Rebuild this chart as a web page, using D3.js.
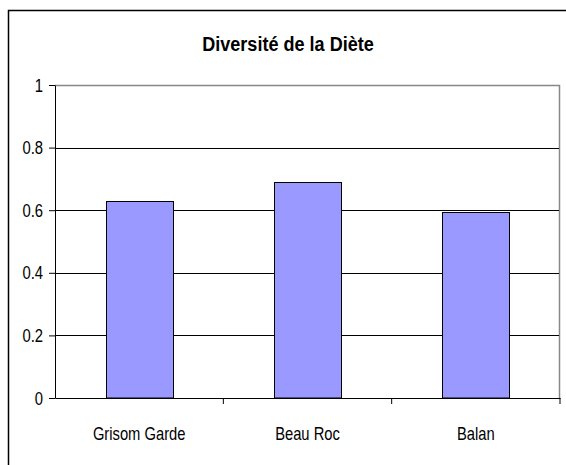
<!DOCTYPE html>
<html>
<head>
<meta charset="utf-8">
<script src="https://cdn.jsdelivr.net/npm/d3@7"></script>
<style>
  body { margin: 0; background: #fff; }
  text { font-family: "Liberation Sans", Arial, sans-serif; }
</style>
</head>
<body>
<svg id="chart" width="566" height="465"></svg>
<script>
const title = 'Diversité de la Diète';
const sites = ['Grisom Garde', 'Beau Roc', 'Balan'];
const diversity = [0.63, 0.69, 0.595];
const yTicks = [0, 0.2, 0.4, 0.6, 0.8, 1];

const svg = d3.select('#chart');
const plot = { left: 55, right: 560, top: 85, bottom: 398 };
// the source picture is squeezed sideways, so text is narrowed
const squeeze = 0.82;

// outer frame (only top and left edges fall inside the picture)
svg.append('path')
    .attr('d', 'M8.5,470 V10.5 H570')
    .attr('fill', 'none')
    .attr('stroke', '#000')
    .attr('stroke-width', 1.5);

svg.append('text')
    .attr('transform', 'translate(288,51) scale(0.86,1)')
    .attr('text-anchor', 'middle')
    .attr('font-size', 21)
    .attr('font-weight', 'bold')
    .text(title);

const x = d3.scaleBand()
    .domain(sites)
    .range([plot.left, plot.right])
    .paddingInner(0.6)
    .paddingOuter(0.3);

const xAxisScale = d3.scaleBand()
    .domain(sites)
    .range([plot.left, plot.right]);

const y = d3.scaleLinear()
    .domain([0, 1])
    .range([plot.bottom, plot.top]);

// plot area border (top/right grey)
svg.append('path')
    .attr('d', `M${plot.left},${plot.top + 0.5} H${plot.right - 0.5} V${plot.bottom}`)
    .attr('fill', 'none')
    .attr('stroke', '#888')
    .attr('stroke-width', 1.5);

// gridlines
svg.append('g')
    .selectAll('line')
    .data(yTicks.filter(d => d > 0 && d < 1))
    .join('line')
    .attr('x1', plot.left)
    .attr('x2', plot.right - 1)
    .attr('y1', d => Math.round(y(d)) + 0.5)
    .attr('y2', d => Math.round(y(d)) + 0.5)
    .attr('stroke', '#000');

// bars
svg.append('g')
    .selectAll('rect')
    .data(sites)
    .join('rect')
    .attr('x', d => Math.round(x(d)) + 0.5)
    .attr('y', (d, i) => Math.round(y(diversity[i])) + 0.5)
    .attr('width', Math.round(x.bandwidth()))
    .attr('height', (d, i) => plot.bottom - Math.round(y(diversity[i])) - 0.5)
    .attr('fill', '#9999ff')
    .attr('stroke', '#000')
    .attr('stroke-width', 1);

// y axis
const yAxis = svg.append('g')
    .attr('transform', `translate(${plot.left},0)`)
    .call(d3.axisLeft(y).tickValues(yTicks).tickSize(6).tickSizeOuter(0)
        .tickFormat(d => d === 0 || d === 1 ? d : d.toFixed(1)));
yAxis.select('.domain').attr('stroke', '#000');
yAxis.selectAll('.tick text')
    .attr('font-size', 19)
    .attr('x', -12 / 0.78)
    .attr('transform', 'scale(0.78,1)')
    .attr('fill', '#000');

// x axis
const xAxis = svg.append('g')
    .attr('transform', `translate(0,${plot.bottom})`)
    .call(d3.axisBottom(xAxisScale).tickSize(0).tickSizeOuter(0));
xAxis.select('.domain').attr('stroke', '#000');
xAxis.selectAll('.tick text')
    .attr('font-size', 18)
    .attr('y', 42)
    .attr('dy', 0)
    .attr('transform', `scale(${squeeze},1)`)
    .attr('fill', '#000');

// category separator ticks
svg.append('g')
    .selectAll('line')
    .data(sites)
    .join('line')
    .attr('x1', d => xAxisScale(d) + xAxisScale.bandwidth())
    .attr('x2', d => xAxisScale(d) + xAxisScale.bandwidth())
    .attr('y1', plot.bottom)
    .attr('y2', plot.bottom + 6)
    .attr('stroke', '#000');
</script>
</body>
</html>
